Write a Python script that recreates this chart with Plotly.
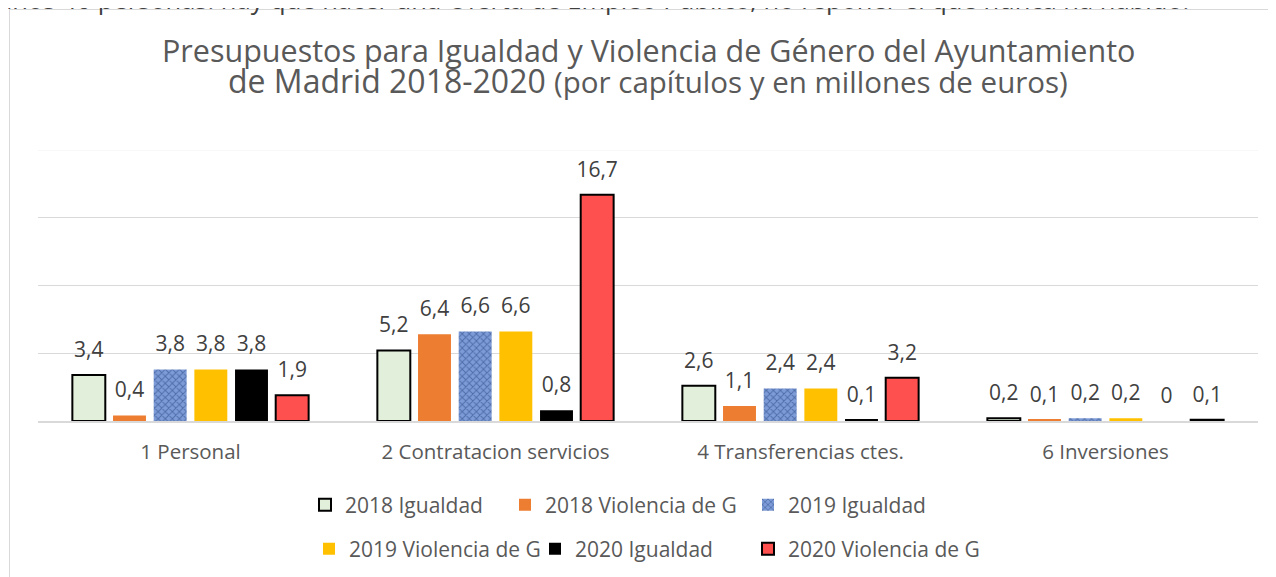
import plotly.graph_objects as go

# ---------------- data ----------------
categories = ["1 Personal", "2 Contratacion servicios", "4 Transferencias ctes.", "6 Inversiones"]
series_names = ["2018 Igualdad", "2018 Violencia de G", "2019 Igualdad",
                "2019 Violencia de G", "2020 Igualdad", "2020 Violencia de G"]
igualdad_2018 = [3.4, 5.2, 2.6, 0.2]
violencia_2018 = [0.4, 6.4, 1.1, 0.1]
igualdad_2019 = [3.8, 6.6, 2.4, 0.2]
violencia_2019 = [3.8, 6.6, 2.4, 0.2]
igualdad_2020 = [3.8, 0.8, 0.1, 0]
violencia_2020 = [1.9, 16.7, 3.2, 0.1]
grid_ticks = [5, 10, 15]
y_max = 20

title_line1 = "Presupuestos para Igualdad y Violencia de Género del Ayuntamiento"
title_line2a = "de Madrid 2018-2020"
title_line2b = "(por capítulos y en millones de euros)"
top_text = "años 40 personas. hay que hacer una Oferta de Empleo Público, no reponer el que nunca ha habido."

series_values = [igualdad_2018, violencia_2018, igualdad_2019,
                 violencia_2019, igualdad_2020, violencia_2020]

# ---------------- geometry helpers (page pixels -> paper) ----------------
# the page body has an 8px margin, so the figure's origin sits at page (8, 8)
OFF = 8
W, H = 1276, 577
L, R, T, B = 30, 26, 142, 164
PW, PH = W - L - R, H - T - B


def px(x):
    return (x - OFF - L) / PW


def py(y):
    return (H - B - (y - OFF)) / PH


FONT = "Open Sans"

styles = [
    dict(color="#e2efda", line=dict(color="#000000", width=2)),
    dict(color="#ed7d31", line=dict(width=0)),
    dict(color="#7596d2", line=dict(width=0),
         pattern=dict(shape="x", fgcolor="#203f7e", bgcolor="#7d9bd6", size=5, solidity=0.35)),
    dict(color="#ffc000", line=dict(width=0)),
    dict(color="#000000", line=dict(width=0)),
    dict(color="#ff5050", line=dict(color="#000000", width=2)),
]

# legend positions (text start x, row centre y) in page pixels
legend_pos = [(343, 505), (543, 505), (786, 505), (347, 549), (573, 549), (786, 549)]

fig = go.Figure()
layout_legends = {}
for i, (name, vals) in enumerate(zip(series_names, series_values)):
    lg = "legend" if i == 0 else f"legend{i + 1}"
    fig.add_trace(go.Bar(
        x=categories, y=vals, name=name, marker=styles[i],
        legend=lg, hoverinfo="name+y", offsetgroup=str(i),
    ))
    tx, ty = legend_pos[i]
    layout_legends[lg] = dict(
        x=px(tx - 38), y=py(ty), xanchor="left", yanchor="middle",
        orientation="h", bgcolor="rgba(0,0,0,0)", borderwidth=0,
        font=dict(family=FONT, size=21, color="#595959"),
    )

# data labels: text traces grouped like the bars
for i, vals in enumerate(series_values):
    fig.add_trace(go.Scatter(
        x=categories, y=vals, mode="markers+text",
        text=[f"{v:g}".replace(".", ",") for v in vals],
        textposition="top center",
        textfont=dict(family=FONT, size=21, color="#404040"),
        marker=dict(size=19, opacity=0),
        showlegend=False, hoverinfo="skip", cliponaxis=False,
        offsetgroup=str(i),
    ))

annotations = [
    dict(text=title_line1, x=px(648), y=py(50), xref="paper", yref="paper",
         xanchor="center", yanchor="middle", showarrow=False,
         font=dict(family=FONT, size=30.5, color="#595959")),
    dict(text=f"{title_line2a} <span style='font-size:29.5px'>{title_line2b}</span>",
         x=px(648), y=py(81), xref="paper", yref="paper",
         xanchor="center", yanchor="middle", showarrow=False,
         font=dict(family=FONT, size=32, color="#595959")),
    dict(text=top_text, x=px(-4), y=py(-1), xref="paper", yref="paper",
         xanchor="left", yanchor="middle", showarrow=False,
         font=dict(family=FONT, size=25.5, color="#404040")),
]

shapes = [
    # chart frame
    dict(type="rect", xref="paper", yref="paper", x0=px(9.5), x1=px(1300),
         y0=py(600), y1=py(9.5), line=dict(color="#d9d9d9", width=1), layer="below"),
    # faint top gridline
    dict(type="line", xref="paper", yref="y", x0=0, x1=1, y0=y_max, y1=y_max,
         line=dict(color="#f2f2f2", width=1), layer="below"),
]

fig.update_layout(
    width=W, height=H,
    margin=dict(l=L, r=R, t=T, b=B, pad=0, autoexpand=False),
    paper_bgcolor="white", plot_bgcolor="white",
    barmode="group", bargap=0.2, bargroupgap=0.19,
    scattermode="group",
    annotations=annotations, shapes=shapes,
    **layout_legends,
)
fig.update_xaxes(
    showline=True, linecolor="#d9d9d9", linewidth=2, showgrid=False,
    tickfont=dict(family=FONT, size=20.5, color="#595959"), ticks="",
    ticklabelstandoff=11,
)
fig.update_yaxes(
    range=[0, y_max], tickvals=grid_ticks, showticklabels=False,
    showgrid=True, gridcolor="#d9d9d9", gridwidth=1, zeroline=False,
)

fig.write_html("out.html")
